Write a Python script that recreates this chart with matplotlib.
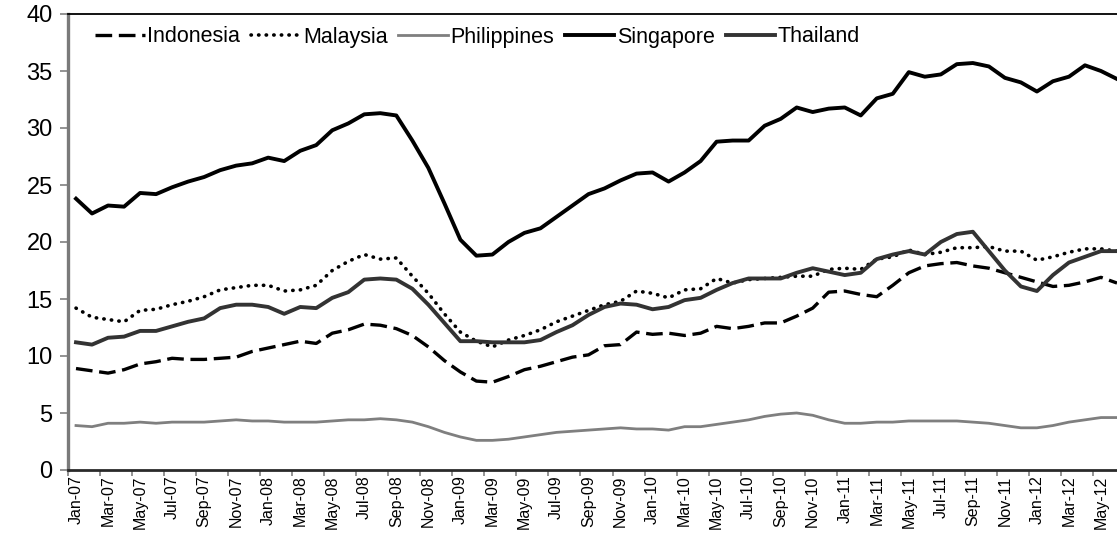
import matplotlib
matplotlib.use("Agg")
import matplotlib.pyplot as plt
import pandas as pd

months = [d.strftime("%b-%y") for d in pd.date_range("2007-01-01", periods=66, freq="MS")]

indonesia = [8.9, 8.7, 8.5, 8.8, 9.3, 9.5, 9.8, 9.7, 9.7, 9.8, 9.9, 10.4, 10.7, 11.0, 11.3, 11.1, 12.0, 12.3, 12.8, 12.7, 12.4,
             11.8, 10.8, 9.6, 8.6, 7.8, 7.7, 8.2, 8.8, 9.1, 9.5,
             9.9, 10.1, 10.9, 11.0, 12.1, 11.9, 12.0, 11.8, 12.0, 12.6,
             12.4, 12.6, 12.9, 12.9, 13.5, 14.2, 15.6, 15.7, 15.4, 15.2,
             16.2, 17.3, 17.9, 18.1, 18.2, 17.9, 17.7, 17.3, 16.9, 16.5,
             16.1, 16.2, 16.5, 16.9, 16.4]
malaysia = [14.2, 13.4, 13.2, 13.0, 14.0, 14.1, 14.5, 14.8, 15.2, 15.8, 16.0, 16.2, 16.2, 15.7, 15.8, 16.2, 17.5, 18.3, 18.9, 18.5, 18.6,
            17.0, 15.5, 13.7, 12.1, 11.3, 10.8, 11.4, 11.8, 12.3, 13.0,
            13.5, 14.0, 14.5, 14.8, 15.7, 15.5, 15.1, 15.8, 15.9, 16.8,
            16.4, 16.7, 16.8, 16.9, 17.0, 17.0, 17.6, 17.7, 17.6, 18.5,
            18.7, 19.3, 18.9, 19.1, 19.5, 19.5, 19.6, 19.2, 19.2, 18.4,
            18.7, 19.1, 19.4, 19.4, 19.2]
philippines = [3.9, 3.8, 4.1, 4.1, 4.2, 4.1, 4.2, 4.2, 4.2, 4.3, 4.4, 4.3, 4.3, 4.2, 4.2, 4.2, 4.3, 4.4, 4.4, 4.5, 4.4,
               4.2, 3.8, 3.3, 2.9, 2.6, 2.6, 2.7, 2.9, 3.1, 3.3,
               3.4, 3.5, 3.6, 3.7, 3.6, 3.6, 3.5, 3.8, 3.8, 4.0,
               4.2, 4.4, 4.7, 4.9, 5.0, 4.8, 4.4, 4.1, 4.1, 4.2,
               4.2, 4.3, 4.3, 4.3, 4.3, 4.2, 4.1, 3.9, 3.7, 3.7,
               3.9, 4.2, 4.4, 4.6, 4.6]
singapore = [23.8, 22.5, 23.2, 23.1, 24.3, 24.2, 24.8, 25.3, 25.7, 26.3, 26.7, 26.9, 27.4, 27.1, 28.0, 28.5, 29.8, 30.4, 31.2, 31.3, 31.1,
             28.9, 26.5, 23.4, 20.2, 18.8, 18.9, 20.0, 20.8, 21.2, 22.2,
             23.2, 24.2, 24.7, 25.4, 26.0, 26.1, 25.3, 26.1, 27.1, 28.8,
             28.9, 28.9, 30.2, 30.8, 31.8, 31.4, 31.7, 31.8, 31.1, 32.6,
             33.0, 34.9, 34.5, 34.7, 35.6, 35.7, 35.4, 34.4, 34.0, 33.2,
             34.1, 34.5, 35.5, 35.0, 34.3]
thailand = [11.2, 11.0, 11.6, 11.7, 12.2, 12.2, 12.6, 13.0, 13.3, 14.2, 14.5, 14.5, 14.3, 13.7, 14.3, 14.2, 15.1, 15.6, 16.7, 16.8, 16.7,
            15.9, 14.5, 12.9, 11.3, 11.3, 11.2, 11.2, 11.2, 11.4, 12.1,
            12.7, 13.6, 14.3, 14.6, 14.5, 14.1, 14.3, 14.9, 15.1, 15.8,
            16.4, 16.8, 16.8, 16.8, 17.3, 17.7, 17.4, 17.1, 17.3, 18.5,
            18.9, 19.2, 18.9, 20.0, 20.7, 20.9, 19.2, 17.5, 16.1, 15.7,
            17.1, 18.2, 18.7, 19.2, 19.2]

plt.rcParams['font.family'] = ['Liberation Sans', 'DejaVu Sans']

W, H = 1117, 539
fig = plt.figure(figsize=(W / 100, H / 100), dpi=100)
ax = fig.add_axes([68 / W, (H - 470) / H, (1125 - 68) / W, (470 - 14) / H])

x = list(range(len(months)))
ax.plot(x, indonesia, color='black', lw=2.4, linestyle=(0, (5, 2)), label='Indonesia')
ax.plot(x, malaysia, color='black', lw=2.6, linestyle=(0, (0.1, 2.0)), dash_capstyle='round', label='Malaysia')
ax.plot(x, philippines, color='#7f7f7f', lw=2.0, label='Philippines')
ax.plot(x, singapore, color='black', lw=2.8, label='Singapore')
ax.plot(x, thailand, color='#333333', lw=2.8, label='Thailand')

ax.set_xlim(-0.5, len(months) - 0.5)
ax.set_ylim(0, 40)
ax.set_yticks(range(0, 41, 5))
ax.tick_params(axis='y', direction='out', length=6, width=1.2, color='#808080', labelsize=17, pad=5)

major = [i - 0.5 for i in range(0, len(months), 2)]
ax.set_xticks(major)
ax.set_xticklabels([])
ax.set_xticks(list(range(0, len(months), 2)), minor=True)
ax.set_xticklabels([months[i] for i in range(0, len(months), 2)], minor=True, rotation=90, fontsize=11.5)
ax.tick_params(axis='x', which='major', direction='out', length=4, width=1.2, color='#808080')
ax.tick_params(axis='x', which='minor', length=0, pad=4)

ax.spines['left'].set_color('#7a7a7a')
ax.spines['left'].set_linewidth(2.4)
ax.spines['bottom'].set_color('#2a2a2a')
ax.spines['bottom'].set_linewidth(2.0)
ax.spines['top'].set_color('black')
ax.spines['top'].set_linewidth(1.3)
ax.spines['right'].set_visible(False)

leg = ax.legend(loc='center left', bbox_to_anchor=(95 / W, 1 - 37 / H), bbox_transform=fig.transFigure,
                ncol=5, frameon=False, fontsize=15.5, handlelength=2.3, handletextpad=0.12,
                columnspacing=0.5, borderpad=0, borderaxespad=0)

fig.savefig('out.png', dpi=100)
